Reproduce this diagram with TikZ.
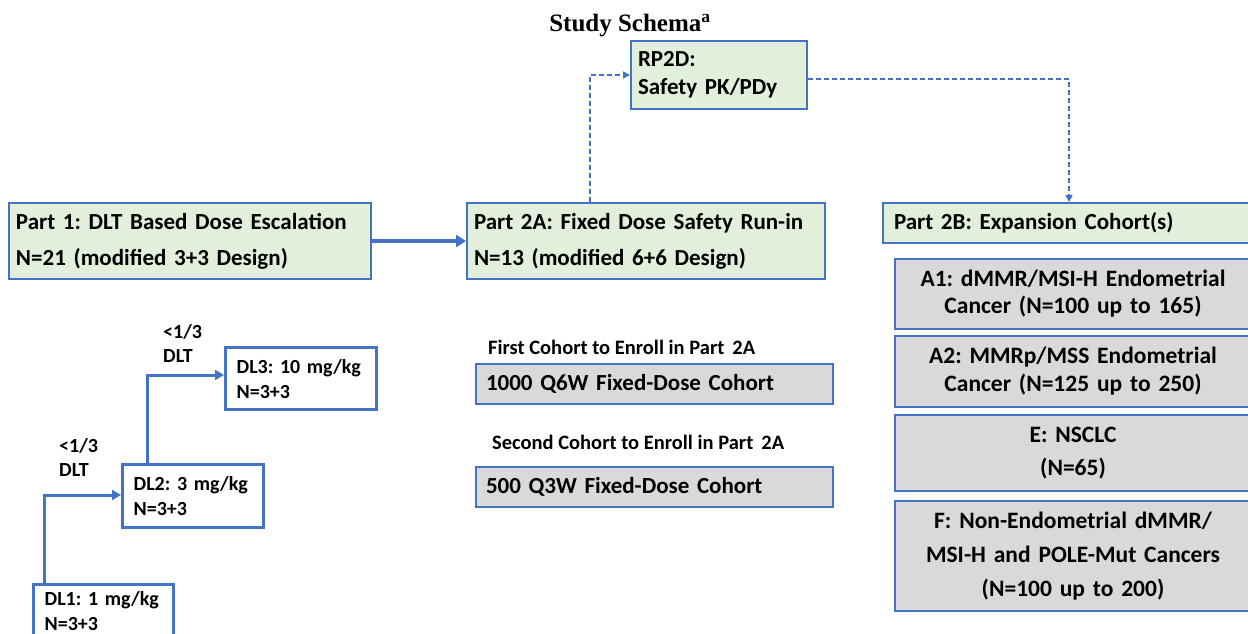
\documentclass[tikz,border=0pt]{standalone}
\usepackage{fontspec}
\setmainfont{Carlito}
\newfontfamily\titlefont{Liberation Serif}
\usetikzlibrary{arrows.meta}
\definecolor{bblue}{HTML}{4472C4}
\definecolor{gfill}{HTML}{E2EFDA}
\definecolor{grfill}{HTML}{D9D9D9}
\tikzset{
  gbox/.style={draw=bblue, line width=2pt, fill=gfill, anchor=north west, inner xsep=7pt, inner ysep=0pt, align=left, font=\bfseries\fontsize{23}{36}\selectfont},
  grbox/.style={draw=bblue, line width=2pt, fill=grfill, anchor=north west, inner xsep=4pt, inner ysep=0pt, align=center, font=\bfseries\fontsize{23.5}{27}\selectfont},
  cbox/.style={draw=bblue, line width=2pt, fill=grfill, anchor=north west, inner xsep=10pt, inner ysep=0pt, align=left, font=\bfseries\fontsize{23}{25}\selectfont},
  dlbox/.style={draw=bblue, line width=3.3pt, fill=white, anchor=north west, inner xsep=11pt, inner ysep=0pt, align=left, font=\bfseries\fontsize{20}{25}\selectfont},
  lbl/.style={anchor=north west, inner sep=0pt, align=left, font=\bfseries\fontsize{20.5}{24}\selectfont},
  solidarr/.style={draw=bblue, line width=3pt, -{Triangle[length=9pt,width=10pt]}},
  dasharr/.style={draw=bblue, line width=1.6pt, dash pattern=on 5pt off 3pt, -{Triangle[length=7pt,width=7pt]}}
}
\begin{document}
\frenchspacing
\begin{tikzpicture}[x=1pt,y=-1pt]
\useasboundingbox (0,0) rectangle (1248,634);
\clip (0,0) rectangle (1248,634);
\node[anchor=base, inner sep=0pt, font=\titlefont\bfseries\fontsize{25}{30}\selectfont] (title) at (630,32) {Study Schema\textsuperscript{a}};

\node[gbox, text width=162pt, minimum height=68pt, font=\bfseries\fontsize{23}{28}\selectfont] (rp) at (630,40) {RP2D:\\Safety PK/PDy};
\node[gbox, text width=348pt, minimum height=76pt] (p1) at (8,202) {Part 1: DLT Based Dose Escalation\\N=21 (modified 3+3 Design)};
\node[gbox, text width=344pt, minimum height=76pt] (p2a) at (466,202) {Part 2A: Fixed Dose Safety Run-in\\N=13 (modified 6+6 Design)};
\node[gbox, text width=370pt, minimum height=40pt, inner xsep=11pt] (p2b) at (882,202) {Part 2B: Expansion Cohort(s)};

\node[grbox, text width=348pt, minimum height=70pt] (a1) at (894,258) {A1: dMMR/MSI-H Endometrial\\Cancer (N=100 up to 165)};
\node[grbox, text width=348pt, minimum height=71pt, font=\bfseries\fontsize{23.5}{28}\selectfont] (a2) at (894,335) {A2: MMRp/MSS Endometrial\\Cancer (N=125 up to 250)};
\node[grbox, text width=348pt, minimum height=76pt, font=\bfseries\fontsize{23.5}{33}\selectfont] (e) at (894,414) {E: NSCLC\\(N=65)};
\node[grbox, text width=348pt, minimum height=110pt, font=\bfseries\fontsize{23.5}{34}\selectfont] (f) at (894,500) {F: Non-Endometrial dMMR/\\MSI-H and POLE-Mut Cancers\\(N=100 up to 200)};

\node[lbl] (l1) at (488,340) {First Cohort to Enroll in Part\, 2A};
\node[cbox, text width=337pt, minimum height=40pt] (c1) at (475,363) {1000 Q6W Fixed-Dose Cohort};
\node[lbl] (l2) at (492,435) {Second Cohort to Enroll in Part\, 2A};
\node[cbox, text width=337pt, minimum height=40pt] (c2) at (475,466) {500 Q3W Fixed-Dose Cohort};

\node[dlbox, text width=129pt, minimum height=62pt] (dl3) at (224,346) {DL3: 10 mg/kg\\N=3+3};
\node[dlbox, text width=119pt, minimum height=63pt] (dl2) at (121,463) {DL2: 3 mg/kg\\N=3+3};
\node[dlbox, text width=118pt, minimum height=53pt] (dl1) at (32,583) {DL1: 1 mg/kg\\N=3+3};

\node[lbl, font=\bfseries\fontsize{20}{24}\selectfont] (t3) at (163,324) {<1/3\\DLT};
\node[lbl, font=\bfseries\fontsize{20}{24}\selectfont] (t2) at (59,438) {<1/3\\DLT};

\coordinate (k1) at (44,495);
\coordinate (k2) at (147,375);
\draw[solidarr] (dl1.north west -| k1) -- (k1) -- (k1 -| dl2.west);
\draw[solidarr] (dl2.north west -| k2) -- (k2) -- (k2 -| dl3.west);

\draw[draw=bblue, line width=4pt, -{Triangle[length=10pt,width=12pt]}] (p1.east) -- (p2a.west);

\coordinate (d1) at (590,75);
\coordinate (d2) at (1069,79);
\draw[dasharr] (p2a.north west -| d1) -- (d1) -- (d1 -| rp.west);
\draw[dasharr] (rp.east |- d2) -- (d2) -- (d2 |- p2b.north);
\end{tikzpicture}
\end{document}
